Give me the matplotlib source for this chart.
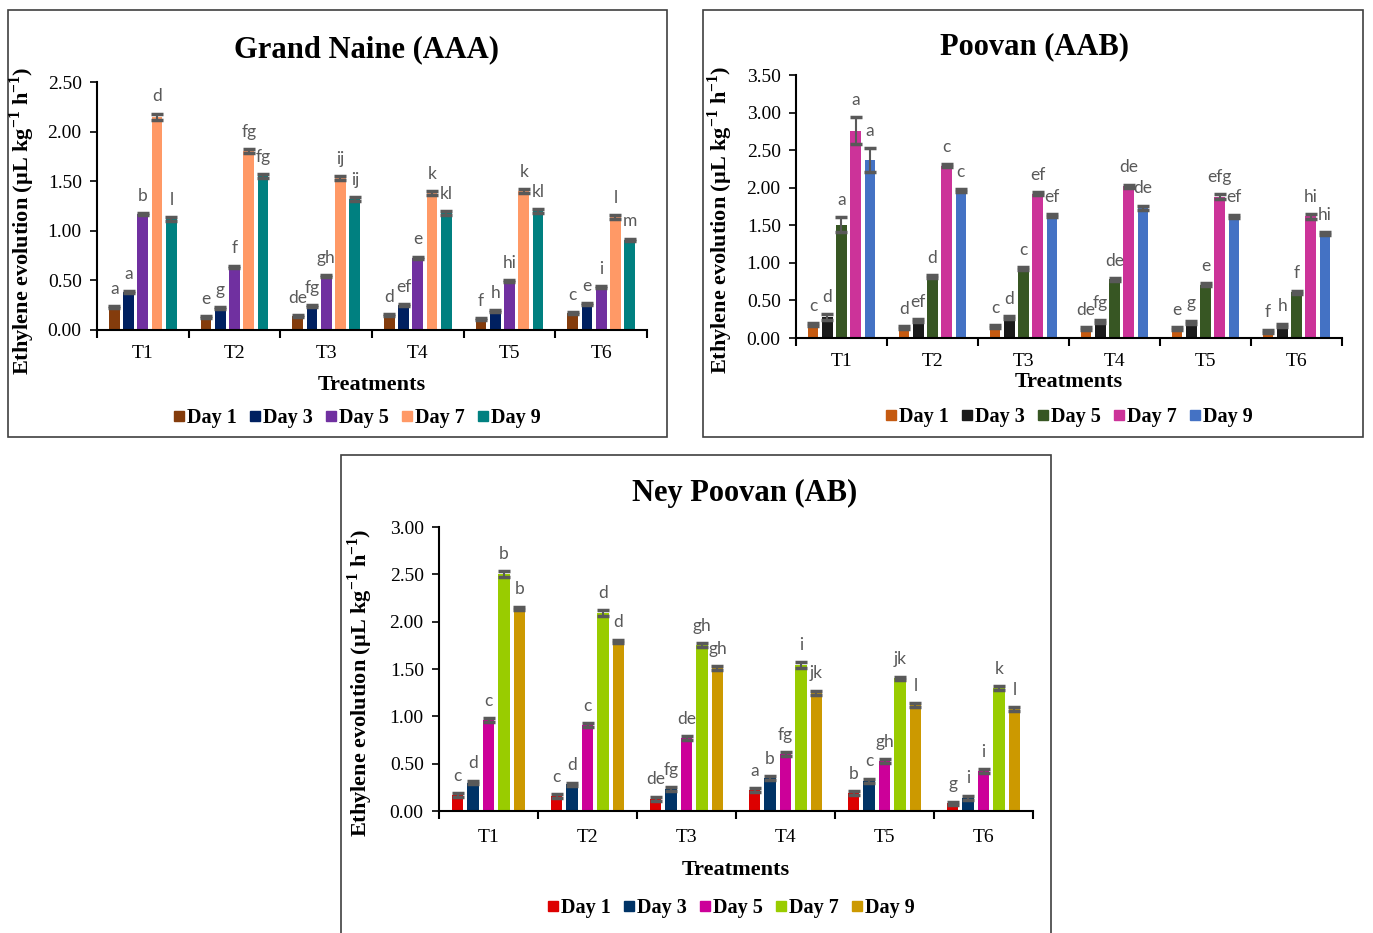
import matplotlib
matplotlib.use("Agg")
import matplotlib.pyplot as plt
from matplotlib.lines import Line2D
from matplotlib.patches import Rectangle
import numpy as np

plt.rcParams['font.family'] = ['Liberation Serif', 'DejaVu Serif']
plt.rcParams['mathtext.fontset'] = 'custom'
plt.rcParams['mathtext.rm'] = 'Liberation Serif:bold'
plt.rcParams['mathtext.bf'] = 'Liberation Serif:bold'

treatments = ["T1", "T2", "T3", "T4", "T5", "T6"]
days = ["Day 1", "Day 3", "Day 5", "Day 7", "Day 9"]

# Grand Naine (AAA): rows = days, cols = treatments
gn_vals = [
    [0.23, 0.13, 0.14, 0.15, 0.11, 0.17],
    [0.38, 0.22, 0.24, 0.25, 0.19, 0.26],
    [1.17, 0.64, 0.54, 0.73, 0.49, 0.43],
    [2.15, 1.80, 1.53, 1.38, 1.40, 1.14],
    [1.12, 1.55, 1.32, 1.18, 1.20, 0.91],
]
gn_err = [
    [0.01, 0.01, 0.01, 0.01, 0.01, 0.01],
    [0.01, 0.01, 0.01, 0.01, 0.01, 0.01],
    [0.01, 0.01, 0.01, 0.01, 0.01, 0.01],
    [0.03, 0.02, 0.02, 0.02, 0.02, 0.02],
    [0.02, 0.02, 0.02, 0.02, 0.02, 0.01],
]
gn_letters = [
    ["a", "e", "de", "d", "f", "c"],
    ["a", "g", "fg", "ef", "h", "e"],
    ["b", "f", "gh", "e", "hi", "i"],
    ["d", "fg", "ij", "k", "k", "l"],
    ["l", "fg", "ij", "kl", "kl", "m"],
]
gn_colors = ["#843C0C", "#002060", "#7030A0", "#FF9966", "#008080"]

# Poovan (AAB)
pv_vals = [
    [0.18, 0.14, 0.15, 0.12, 0.12, 0.09],
    [0.28, 0.23, 0.27, 0.22, 0.21, 0.17],
    [1.51, 0.82, 0.92, 0.78, 0.71, 0.61],
    [2.76, 2.29, 1.92, 2.02, 1.88, 1.62],
    [2.37, 1.96, 1.63, 1.73, 1.62, 1.39],
]
pv_err = [
    [0.02, 0.02, 0.02, 0.02, 0.02, 0.02],
    [0.04, 0.02, 0.02, 0.02, 0.02, 0.02],
    [0.10, 0.02, 0.02, 0.02, 0.02, 0.02],
    [0.18, 0.02, 0.02, 0.02, 0.03, 0.03],
    [0.16, 0.02, 0.02, 0.03, 0.02, 0.02],
]
pv_letters = [
    ["c", "d", "c", "de", "e", "f"],
    ["d", "ef", "d", "fg", "g", "h"],
    ["a", "d", "c", "de", "e", "f"],
    ["a", "c", "ef", "de", "efg", "hi"],
    ["a", "c", "ef", "de", "ef", "hi"],
]
pv_colors = ["#C55A11", "#1A1A1A", "#375623", "#CC3399", "#4472C4"]

# Ney Poovan (AB)
np_vals = [
    [0.17, 0.16, 0.13, 0.22, 0.19, 0.08],
    [0.30, 0.28, 0.23, 0.35, 0.32, 0.14],
    [0.96, 0.91, 0.77, 0.60, 0.53, 0.42],
    [2.50, 2.09, 1.75, 1.54, 1.40, 1.30],
    [2.14, 1.79, 1.51, 1.25, 1.12, 1.08],
]
np_err = [
    [0.02, 0.02, 0.02, 0.02, 0.02, 0.02],
    [0.02, 0.02, 0.02, 0.02, 0.02, 0.02],
    [0.02, 0.02, 0.02, 0.02, 0.02, 0.02],
    [0.03, 0.03, 0.02, 0.03, 0.02, 0.02],
    [0.02, 0.02, 0.02, 0.02, 0.02, 0.02],
]
np_letters = [
    ["c", "c", "de", "a", "b", "g"],
    ["d", "d", "fg", "b", "c", "i"],
    ["c", "c", "de", "fg", "gh", "i"],
    ["b", "d", "gh", "i", "jk", "k"],
    ["b", "d", "gh", "jk", "l", "l"],
]
np_colors = ["#DD0000", "#003366", "#CC0099", "#99CC00", "#CC9900"]

W, H = 1373, 933
fig = plt.figure(figsize=(W / 100, H / 100), dpi=100)


def fx(px):
    return px / W


def fy(py):
    return 1 - py / H


def draw_panel(rect, vals, errs, letters, colors, ymax, title, title_xy,
               ylab_xy, tick_y, xlab_y, leg_xy):
    left, top, right, bottom = rect
    ax = fig.add_axes([fx(left), fy(bottom), fx(right - left), (bottom - top) / H])
    x = np.arange(len(treatments))
    step = 0.156
    width = 0.117
    for i in range(len(days)):
        xs = x + (i - 2) * step
        ax.bar(xs, vals[i], width, color=colors[i], zorder=2)
        ax.errorbar(xs, vals[i], yerr=errs[i], fmt="none", ecolor="#595959",
                    elinewidth=1.5, capsize=4, capthick=2.5, zorder=3)
        for j in range(len(treatments)):
            ax.annotate(letters[i][j], (xs[j], vals[i][j] + errs[i][j]),
                        xytext=(0, 12.5), textcoords="offset points",
                        ha="center", va="center", fontsize=12.5,
                        color="#595959", family="Lato")
    ax.set_xlim(-0.5, len(treatments) - 0.5)
    ax.set_ylim(0, ymax)
    ax.set_yticks(np.arange(0, ymax + 0.01, 0.5))
    ax.set_yticklabels(["%.2f" % v for v in np.arange(0, ymax + 0.01, 0.5)],
                       fontsize=14)
    ax.set_xticks(np.arange(-0.5, len(treatments), 1.0))
    ax.set_xticklabels([])
    ax.tick_params(axis="x", direction="out", length=6, width=1.5)
    ax.tick_params(axis="y", direction="out", length=5, width=1.2, pad=6)
    for s in ["top", "right"]:
        ax.spines[s].set_visible(False)
    ax.spines["left"].set_linewidth(1.5)
    ax.spines["bottom"].set_linewidth(1.5)
    for j, t in enumerate(treatments):
        fig.text(fx(left + (right - left) * (j + 0.5) / len(treatments)),
                 fy(tick_y), t, ha="center", va="center", fontsize=14)
    fig.text(fx(title_xy[0]), fy(title_xy[1]), title, ha="center",
             va="center", fontsize=22, fontweight="bold")
    fig.text(fx(ylab_xy[0]), fy(ylab_xy[1]),
             "Ethylene evolution (\u00b5L kg$^{-1}$ h$^{-1}$)",
             rotation=90, ha="center", va="center", fontsize=16,
             fontweight="bold")
    fig.text(fx((left + right) / 2), fy(xlab_y), "Treatments", ha="center",
             va="center", fontsize=16, fontweight="bold")
    handles = [Line2D([], [], marker="s", linestyle="", markersize=7,
                      color=c) for c in colors]
    fig.legend(handles, days, loc="center", ncol=5,
               bbox_to_anchor=(fx(leg_xy[0]), fy(leg_xy[1])), frameon=False,
               handletextpad=-0.2, columnspacing=0.3, handlelength=1.2,
               prop={"family": "Liberation Serif", "weight": "bold", "size": 14.5})
    return ax


draw_panel((97, 82, 647, 330), gn_vals, gn_err, gn_letters, gn_colors, 2.5,
           "Grand Naine (AAA)", (366, 50), (22, 221), 354, 385, (354, 418))
draw_panel((796, 75, 1342, 338), pv_vals, pv_err, pv_letters, pv_colors, 3.5,
           "Poovan (AAB)", (1034, 47), (720, 220), 362, 382, (1066, 417))
draw_panel((439, 527, 1033, 811), np_vals, np_err, np_letters, np_colors, 3.0,
           "Ney Poovan (AB)", (745, 493), (360, 683), 838, 870, (728, 908))

# panel frames
for (l, t, r, b) in [(8, 10, 667, 437), (703, 10, 1363, 437), (341, 455, 1051, 945)]:
    fig.patches.append(Rectangle((fx(l), fy(b)), fx(r - l), (b - t) / H,
                                 transform=fig.transFigure, fill=False,
                                 edgecolor="#404040", linewidth=1.2))

fig.savefig("out.png", dpi=100)
